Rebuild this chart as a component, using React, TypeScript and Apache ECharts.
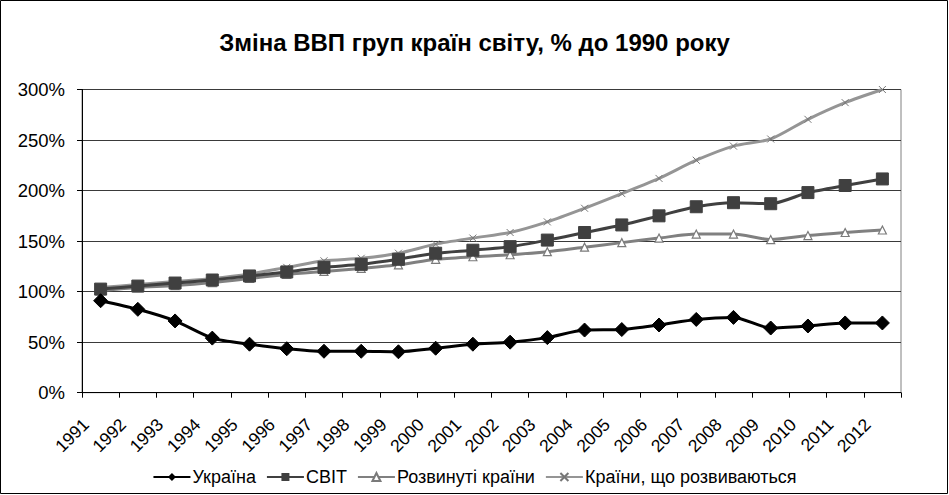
import React, { useEffect, useRef } from "react";
import * as echarts from "echarts";

const years = ["1991","1992","1993","1994","1995","1996","1997","1998","1999","2000","2001","2002","2003","2004","2005","2006","2007","2008","2009","2010","2011","2012"];
const ukraine = [91, 82.5, 71, 54, 48, 43.5, 41, 41, 40.5, 44, 48, 50, 54.5, 62, 62.5, 67, 72.5, 74.5, 64, 66, 69, 69];
const world = [102.5, 105.5, 108.5, 111.5, 115.5, 119.5, 124, 127, 132, 138, 141, 144.5, 151, 158.5, 166, 175, 184, 188, 187, 198, 205, 211.5];
const developed = [101, 104, 106, 109, 113, 117, 120, 123, 126.5, 132, 134.5, 136.5, 139.5, 144, 148.5, 153, 157, 157, 151.5, 155.5, 158.5, 161];
const developing = [104, 107, 110, 113, 117.5, 124, 130.5, 133, 138, 147, 153, 158.5, 169, 182.5, 197, 212, 230, 244, 251, 270.5, 287, 300];
const yTicks = [0, 50, 100, 150, 200, 250, 300];
const names = ["Україна", "СВІТ", "Розвинуті країни", "Країни, що розвиваються"];
const title = "Зміна ВВП груп країн світу, % до 1990 року";

export default function App() {
  const ref = useRef<HTMLDivElement>(null);
  useEffect(() => {
    if (!ref.current) return;
    const chart = echarts.init(ref.current, null, { renderer: "svg" });
    const font = "Liberation Sans, Arial, sans-serif";
    chart.setOption({
      animation: false,
      backgroundColor: "#ffffff",
      textStyle: { fontFamily: font },
      title: {
        text: title,
        left: "center",
        top: 25,
        textStyle: { fontFamily: font, fontSize: 24, fontWeight: "bold", color: "#000" },
      },
      graphic: [
        { type: "rect", shape: { x: 0.5, y: 0.5, width: 947, height: 493 }, style: { fill: "none", stroke: "#000", lineWidth: 1 }, silent: true },
      ],
      legend: {
        top: 463,
        left: "center",
        itemWidth: 37,
        itemHeight: 10,
        itemGap: 10,
        textStyle: { fontFamily: font, fontSize: 18, color: "#000", padding: [0, 0, 0, -3] },
        data: names,
      },
      grid: { left: 82, right: 48, top: 89.5, bottom: 102.3, show: true, borderColor: "#808080", borderWidth: 1 },
      xAxis: {
        type: "category",
        data: years,
        boundaryGap: true,
        axisLine: { lineStyle: { color: "#000", width: 1 } },
        axisTick: { show: true, interval: 0, length: 5, lineStyle: { color: "#000" } },
        axisLabel: { interval: 0, rotate: 45, fontSize: 17.5, color: "#000", margin: 14, padding: [0, 21, 0, 0], fontFamily: font },
      },
      yAxis: {
        type: "value",
        min: 0,
        max: 300,
        interval: 50,
        axisLine: { show: true, lineStyle: { color: "#000", width: 1 } },
        axisTick: { show: true, length: 5, lineStyle: { color: "#000" } },
        axisLabel: { fontSize: 18.5, color: "#000", margin: 17, fontFamily: font, formatter: (v: number) => (yTicks.includes(v) ? v + "%" : "") },
        splitLine: { show: true, lineStyle: { color: "#3a3a3a", width: 1 } },
      },
      series: [
        {
          name: names[3], type: "line", data: developing, smooth: 0.25,
          symbol: "path://M0,0L10,10M10,0L0,10", symbolSize: 7,
          lineStyle: { color: "#959595", width: 3 },
          itemStyle: { color: "#959595", borderColor: "#777", borderWidth: 1 },
          z: 2,
        },
        {
          name: names[2], type: "line", data: developed, smooth: 0.25,
          symbol: "triangle", symbolSize: 8,
          lineStyle: { color: "#808080", width: 3 },
          itemStyle: { color: "#ffffff", borderColor: "#7a7a7a", borderWidth: 1.2 },
          z: 3,
        },
        {
          name: names[1], type: "line", data: world, smooth: 0.25,
          symbol: "rect", symbolSize: 12,
          lineStyle: { color: "#404040", width: 3 },
          itemStyle: { color: "#404040", borderColor: "#404040" },
          z: 4,
        },
        {
          name: names[0], type: "line", data: ukraine, smooth: 0.25,
          symbol: "diamond", symbolSize: 14,
          lineStyle: { color: "#000", width: 3 },
          itemStyle: { color: "#000", borderColor: "#000" },
          z: 5,
        },
      ],
    });
    return () => chart.dispose();
  }, []);
  return <div ref={ref} style={{ position: "absolute", left: 0, top: 0, width: 949, height: 495 }} />;
}
